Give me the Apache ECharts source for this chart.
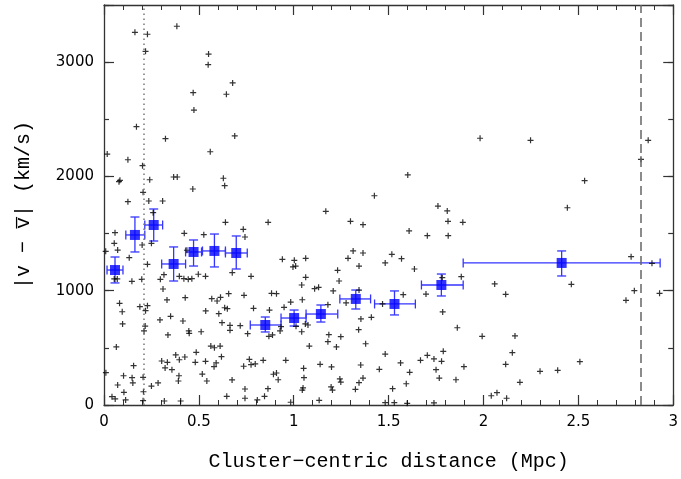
<!DOCTYPE html>
<html>
<head>
<meta charset="utf-8">
<script src="https://cdn.jsdelivr.net/npm/echarts@6/dist/echarts.min.js"></script>
<style>html,body{margin:0;padding:0;background:#fff}#c{width:681px;height:479px}</style>
</head>
<body>
<div id="c"></div>
<script>
// individual galaxies: [cluster-centric distance (Mpc), |v - vmean| (km/s)]
const members = [
[0.384,3314],[0.163,3261],[0.229,3244],[0.219,3095],[0.551,3071],[0.549,2978],[0.678,2818],[0.470,2733],[0.645,2719],[0.474,2581],[0.171,2435],[0.324,2330],[0.689,2354],[0.560,2216],[0.017,2196],[0.126,2146],[0.203,2094],[0.084,1966],[0.079,1954],[0.241,1971],[0.367,1995],[0.386,1995],[0.629,1984],[0.636,1919],[0.468,1890],[0.206,1861],[0.126,1779],[0.236,1785],[0.309,1785],
[0.259,1683],[0.058,1508],[0.009,1345],[0.054,1415],[0.072,1356],[0.201,1400],[0.250,1415],[0.133,1289],[0.054,1103],[0.070,1103],[0.147,1082],[0.199,1100],[0.229,1231],[0.297,1100],[0.316,1140],[0.311,1015],[0.397,1126],[0.421,1105],[0.444,1100],[0.463,1105],[0.497,1144],[0.535,1126],[0.423,1502],[0.526,1490],[0.437,1354],[0.640,1598],[0.734,1537],[0.743,1470],[0.865,1598],[0.940,1275],[1.003,1266],[0.996,1208],[1.010,1216],[0.775,1126],[0.738,960],[0.883,977],[0.909,974],[0.984,901],[0.949,855],[0.872,831],[0.788,846],[0.676,1158],[0.657,974],[0.568,930],[0.596,910],[0.614,942],[0.536,823],[0.605,799],[0.636,851],[0.650,843],[0.428,939],[0.332,919],[0.082,890],[0.096,816],[0.189,860],[0.219,825],[0.229,869],[0.098,709],[0.217,691],[0.211,648],[0.295,744],[0.351,776],[0.416,735],[0.337,613],[0.447,648],[0.449,627],[0.512,641],[0.622,720],[0.664,697],[0.664,653],[0.718,694],[0.757,624],[0.869,601],[0.888,613],[0.928,648],[0.933,685],[0.065,508],[0.378,438],[0.304,385],[0.334,373],[0.322,324],[0.358,309],[0.397,396],[0.426,420],[0.486,461],[0.481,373],[0.535,382],[0.563,516],[0.582,501],[0.612,516],[0.619,423],[0.591,368],[0.580,335],[0.766,400],[0.736,339],[0.775,353],[0.797,359],[0.839,391],[0.958,391],[0.010,283],[0.103,256],[0.156,344],[0.148,239],[0.206,242],[0.152,193],[0.072,175],[0.250,166],[0.285,193],[0.395,256],[0.392,210],[0.518,271],[0.542,210],[0.675,219],[0.743,140],[0.893,269],[0.909,280],[0.918,221],[0.864,143],[0.846,76],[0.105,111],[0.208,116],[0.042,73],[0.059,53],[0.114,44],[0.206,38],[0.318,35],[0.404,35],[0.647,76],[0.743,59],[0.808,44],[0.984,24],
[1.760,1741],[1.809,1698],[1.813,1607],[1.891,1598],[1.814,1482],[1.704,1482],[1.608,1523],[1.169,1695],[1.299,1607],[1.365,1578],[1.313,1348],[1.365,1330],[1.286,1283],[1.063,1283],[1.517,1318],[1.568,1280],[1.482,1243],[1.344,1216],[1.636,1190],[1.231,1178],[1.063,1117],[1.042,1050],[1.110,1018],[1.131,1030],[1.239,1085],[1.208,998],[1.883,1123],[1.783,1114],[1.697,971],[1.577,965],[1.468,884],[1.276,893],[1.344,1006],[1.045,921],[1.180,878],[1.785,814],[1.354,753],[1.409,767],[1.061,709],[1.075,700],[1.012,688],[1.042,641],[1.185,615],[1.248,598],[1.082,516],[1.180,554],[1.225,508],[1.342,659],[1.379,536],[1.862,676],[1.993,601],[1.788,470],[1.704,435],[1.739,403],[1.779,382],[1.668,391],[1.482,446],[1.563,368],[1.611,286],[1.897,335],[1.750,309],[1.767,236],[1.855,221],[1.052,321],[1.139,356],[1.199,333],[1.353,350],[1.451,312],[1.054,239],[1.365,236],[1.243,228],[1.248,201],[1.344,195],[1.593,186],[1.049,149],[1.045,131],[1.197,158],[1.204,131],[1.325,137],[1.521,143],[1.134,41],[1.482,20],[1.530,20],[1.598,15],[1.739,18],
[1.982,2334],[1.601,2013],[1.425,1831],[2.248,2316],[2.868,2316],[2.830,2150],[2.533,1963],[2.442,1726],
[2.778,1298],[2.888,1240],[2.059,1059],[2.117,968],[2.463,1056],[2.751,916],[2.795,1000],[2.928,977],[2.166,604],[2.152,458],[2.117,356],[2.298,295],[2.391,303],[2.508,379],[2.192,198],[2.041,81],[2.071,108],[2.122,59]
];

// binned means with errors
const binX   = [0.058,0.163,0.262,0.367,0.472,0.582,0.697,0.850,1.002,1.143,1.327,1.531,1.778,2.412];
const binXLo = [0.016,0.115,0.215,0.304,0.430,0.519,0.640,0.771,0.933,1.065,1.243,1.426,1.673,1.893];
const binXHi = [0.100,0.215,0.309,0.430,0.514,0.640,0.755,0.933,1.065,1.232,1.405,1.641,1.893,2.931];
const binY   = [1181,1488,1575,1234,1339,1348,1330,700,761,796,928,884,1050,1243];
const binYLo = [1068,1339,1435,1085,1216,1208,1190,639,691,726,840,788,954,1129];
const binYHi = [1295,1645,1715,1383,1444,1496,1479,770,831,875,1006,998,1146,1348];

// vertical reference radii (Mpc)
const innerRadius = 0.211;
const outerRadius = 2.825;

const xTitle = 'Cluster\u2212centric distance (Mpc)';
const yTitle = '|v \u2212 v\u0305| (km/s)';

const frame = '#333';
const tickFont = 'DejaVu Sans, Liberation Sans, sans-serif';
const titleFont = 'Liberation Mono, Courier New, monospace';

function xAx(pos, labels) {
  return {
    type: 'value', min: 0, max: 3, interval: 0.5, position: pos,
    axisLine: {show: true, onZero: false, lineStyle: {color: frame, width: 1.3}},
    axisTick: {show: true, inside: true, length: 10, lineStyle: {color: frame, width: 1.2}},
    minorTick: {show: true, splitNumber: 5, length: 5, lineStyle: {color: frame, width: 1}},
    splitLine: {show: false},
    axisLabel: {show: labels, color: '#000', fontFamily: tickFont, fontSize: 15, margin: 10},
    name: labels ? xTitle : '',
    nameLocation: 'middle', nameGap: 47,
    nameTextStyle: {color: '#000', fontFamily: titleFont, fontSize: 20}
  };
}
function yAx(pos, step, len, labels, line) {
  return {
    type: 'value', min: 0, max: 3500, interval: step, position: pos,
    axisLine: {show: line, onZero: false, lineStyle: {color: frame, width: 1.3}},
    axisTick: {show: true, inside: true, length: len, lineStyle: {color: frame, width: 1.2}},
    splitLine: {show: false},
    axisLabel: {show: labels, color: '#000', fontFamily: tickFont, fontSize: 15, margin: 10,
      formatter: v => (v % 1000 === 0 && v <= 3000) ? String(v) : ''},
    name: labels ? yTitle : '',
    nameLocation: 'middle', nameGap: 70, nameRotate: 90,
    nameTextStyle: {color: '#000', fontFamily: titleFont, fontSize: 20}
  };
}

const bins = binX.map((x, i) => [x, binY[i], binXLo[i], binXHi[i], binYLo[i], binYHi[i]]);
const errColor = '#3535ff';

const option = {
  animation: false,
  backgroundColor: '#fff',
  grid: {left: 104, right: 5, top: 5, bottom: 74},
  xAxis: [xAx('bottom', true), xAx('top', false)],
  yAxis: [yAx('left', 500, 5, true, true), yAx('left', 1000, 10, false, false),
          yAx('right', 500, 5, false, true), yAx('right', 1000, 10, false, false)],
  series: [
    {
      type: 'scatter', xAxisIndex: 0, yAxisIndex: 0, data: members,
      symbol: 'path://M4,0H6V4H10V6H6V10H4V6H0V4H4Z', symbolSize: 6,
      itemStyle: {color: '#000'}, silent: true,
      markLine: {
        silent: true, symbol: ['none', 'none'], label: {show: false},
        data: [
          {xAxis: innerRadius, lineStyle: {color: '#777', type: [1.5, 3.5], width: 1.5}},
          {xAxis: outerRadius, lineStyle: {color: '#666', type: [9, 5], width: 1.5}}
        ]
      }
    },
    {
      type: 'custom', xAxisIndex: 0, yAxisIndex: 0, data: bins, silent: true,
      renderItem: (params, api) => {
        const x = api.value(0), y = api.value(1);
        const l = api.coord([api.value(2), y]), r = api.coord([api.value(3), y]);
        const b = api.coord([x, api.value(4)]), t = api.coord([x, api.value(5)]);
        const cap = 4.5;
        const st = {stroke: errColor, lineWidth: 1.3, fill: null};
        const ln = (x1, y1, x2, y2) => ({type: 'line', shape: {x1, y1, x2, y2}, style: st});
        return {type: 'group', children: [
          ln(l[0], l[1], r[0], r[1]),
          ln(l[0], l[1] - cap, l[0], l[1] + cap),
          ln(r[0], r[1] - cap, r[0], r[1] + cap),
          ln(b[0], b[1], t[0], t[1]),
          ln(b[0] - cap, b[1], b[0] + cap, b[1]),
          ln(t[0] - cap, t[1], t[0] + cap, t[1])
        ]};
      }
    },
    {
      type: 'scatter', xAxisIndex: 0, yAxisIndex: 0,
      data: binX.map((x, i) => [x, binY[i]]),
      symbol: 'rect', symbolSize: 10, itemStyle: {color: '#0000ff'}, silent: true, z: 5
    }
  ]
};
echarts.init(document.getElementById('c'), null, {renderer: 'canvas'}).setOption(option);
</script>
</body>
</html>
